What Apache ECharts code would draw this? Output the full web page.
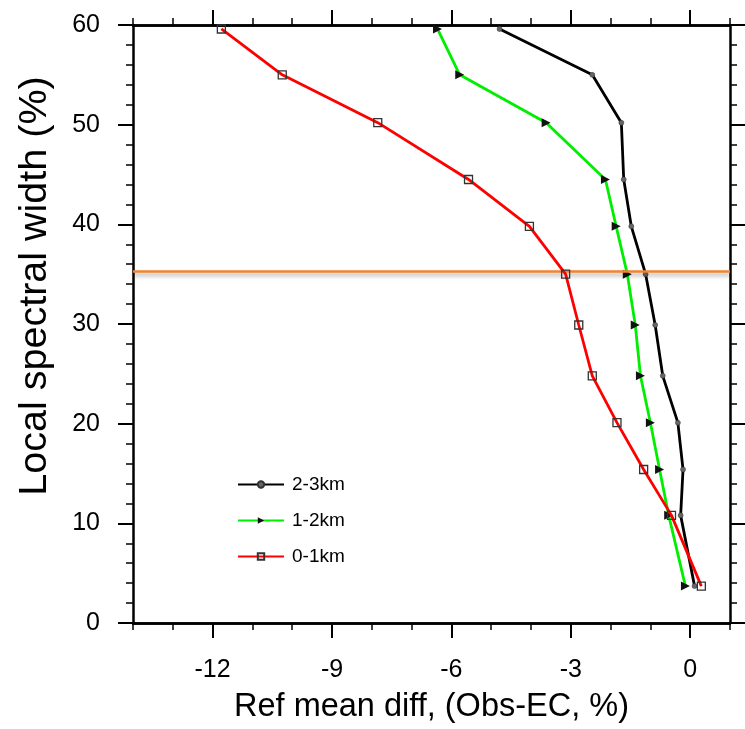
<!DOCTYPE html>
<html>
<head>
<meta charset="utf-8">
<script src="https://cdn.jsdelivr.net/npm/echarts@6/dist/echarts.min.js"></script>
<style>
html,body{margin:0;padding:0;background:#fff;}
#chart{width:745px;height:729px;}
</style>
</head>
<body>
<div id="chart"></div>
<script>
// ---- data ----
const seriesNames = ['2-3km', '1-2km', '0-1km'];
const yLevels = [59.6, 55.0, 50.2, 44.5, 39.8, 35.0, 29.9, 24.8, 20.1, 15.4, 10.8, 3.7];
const diff23 = [-4.79, -2.46, -1.73, -1.67, -1.48, -1.12, -0.88, -0.69, -0.31, -0.18, -0.24, 0.11];
const diff12 = [-6.35, -5.79, -3.62, -2.13, -1.86, -1.58, -1.38, -1.25, -1.00, -0.77, -0.54, -0.12];
const diff01 = [-11.78, -10.25, -7.85, -5.57, -4.04, -3.13, -2.80, -2.46, -1.84, -1.17, -0.47, 0.28];
const xTickLabels = [-12, -9, -6, -3, 0];
const yTickLabels = [0, 10, 20, 30, 40, 50, 60];
const refLineY = 35.3;
const xRange = [-14, 1];
const yRange = [0, 60];

const FONT = 'Liberation Sans, Arial, Helvetica, sans-serif';
const pairs = (xs) => xs.map((x, i) => [x, yLevels[i]]);

const axisLine = { show: true, onZero: false, lineStyle: { color: '#000', width: 2.5 } };

function xAx(pos, major, showLabel, extra) {
  const a = {
    type: 'value', position: pos, min: xRange[0], max: xRange[1],
    axisLine: axisLine,
    splitLine: { show: false },
    axisTick: major
      ? { show: true, inside: false, length: 15, customValues: xTickLabels, lineStyle: { color: '#000', width: 2 } }
      : { show: true, inside: false, length: 7, lineStyle: { color: '#000', width: 1.5 } },
    axisLabel: showLabel
      ? { show: true, customValues: xTickLabels, margin: 35, fontSize: 25, color: '#000', fontFamily: FONT }
      : { show: false }
  };
  if (!major) a.interval = 1;
  return Object.assign(a, extra || {});
}

function yAx(pos, showLabel, extra) {
  return Object.assign({
    type: 'value', position: pos, min: yRange[0], max: yRange[1], interval: 10,
    axisLine: axisLine,
    splitLine: { show: false },
    axisTick: { show: true, inside: false, length: 15, lineStyle: { color: '#000', width: 2 } },
    minorTick: { show: true, splitNumber: 5, length: 7, lineStyle: { color: '#000', width: 1.5 } },
    minorSplitLine: { show: false },
    axisLabel: showLabel
      ? { show: true, margin: 33, fontSize: 25, color: '#000', fontFamily: FONT,
          formatter: (v) => (yTickLabels.indexOf(v) >= 0 ? String(v) : '') }
      : { show: false }
  }, extra || {});
}

const chart = echarts.init(document.getElementById('chart'), null, { renderer: 'canvas' });

const option = {
  animation: false,
  backgroundColor: '#fff',
  grid: { left: 133, right: 15, top: 25, bottom: 105, containLabel: false },
  legend: {
    orient: 'vertical', left: 232, top: 470,
    itemWidth: 46, itemHeight: 8, itemGap: 17,
    data: seriesNames,
    textStyle: { fontSize: 19, color: '#000', fontFamily: FONT, padding: [0, 0, 0, 3] }
  },
  xAxis: [
    xAx('bottom', false, false, {
      name: 'Ref mean diff, (Obs-EC, %)', nameLocation: 'middle', nameGap: 68,
      nameTextStyle: { fontSize: 32.5, color: '#000', fontFamily: FONT }
    }),
    xAx('bottom', true, true),
    xAx('top', false, false),
    xAx('top', true, false)
  ],
  yAxis: [
    yAx('left', true, {
      name: 'Local spectral width (%)', nameLocation: 'middle', nameGap: 78,
      nameTextStyle: { fontSize: 39.5, color: '#000', fontFamily: FONT, padding: [0, 0, 0, 76] }
    }),
    yAx('right', false)
  ],
  series: [
    {
      name: seriesNames[0], type: 'line', xAxisIndex: 0, yAxisIndex: 0,
      data: pairs(diff23),
      symbol: 'circle', symbolSize: 5,
      lineStyle: { color: '#000', width: 2.8 },
      itemStyle: { color: '#666', borderColor: '#333', borderWidth: 0.5 },
      z: 3,
      markLine: {
        silent: true, symbol: 'none', label: { show: false },
        lineStyle: { color: '#f58231', width: 2.5, type: 'solid',
          shadowColor: 'rgba(0,0,0,0.35)', shadowBlur: 4, shadowOffsetY: 3 },
        data: [{ yAxis: refLineY }]
      }
    },
    {
      name: seriesNames[1], type: 'line', xAxisIndex: 0, yAxisIndex: 0,
      data: pairs(diff12),
      symbol: 'triangle', symbolSize: 9, symbolRotate: -90,
      lineStyle: { color: '#00ee00', width: 2.8 },
      itemStyle: { color: '#111' },
      z: 4
    },
    {
      name: seriesNames[2], type: 'line', xAxisIndex: 0, yAxisIndex: 0,
      data: pairs(diff01),
      symbol: 'rect', symbolSize: 8,
      lineStyle: { color: '#ff0000', width: 2.8 },
      itemStyle: { color: 'rgba(255,255,255,0)', borderColor: '#333', borderWidth: 1.3 },
      z: 5
    }
  ]
};
chart.setOption(option);
</script>
</body>
</html>
